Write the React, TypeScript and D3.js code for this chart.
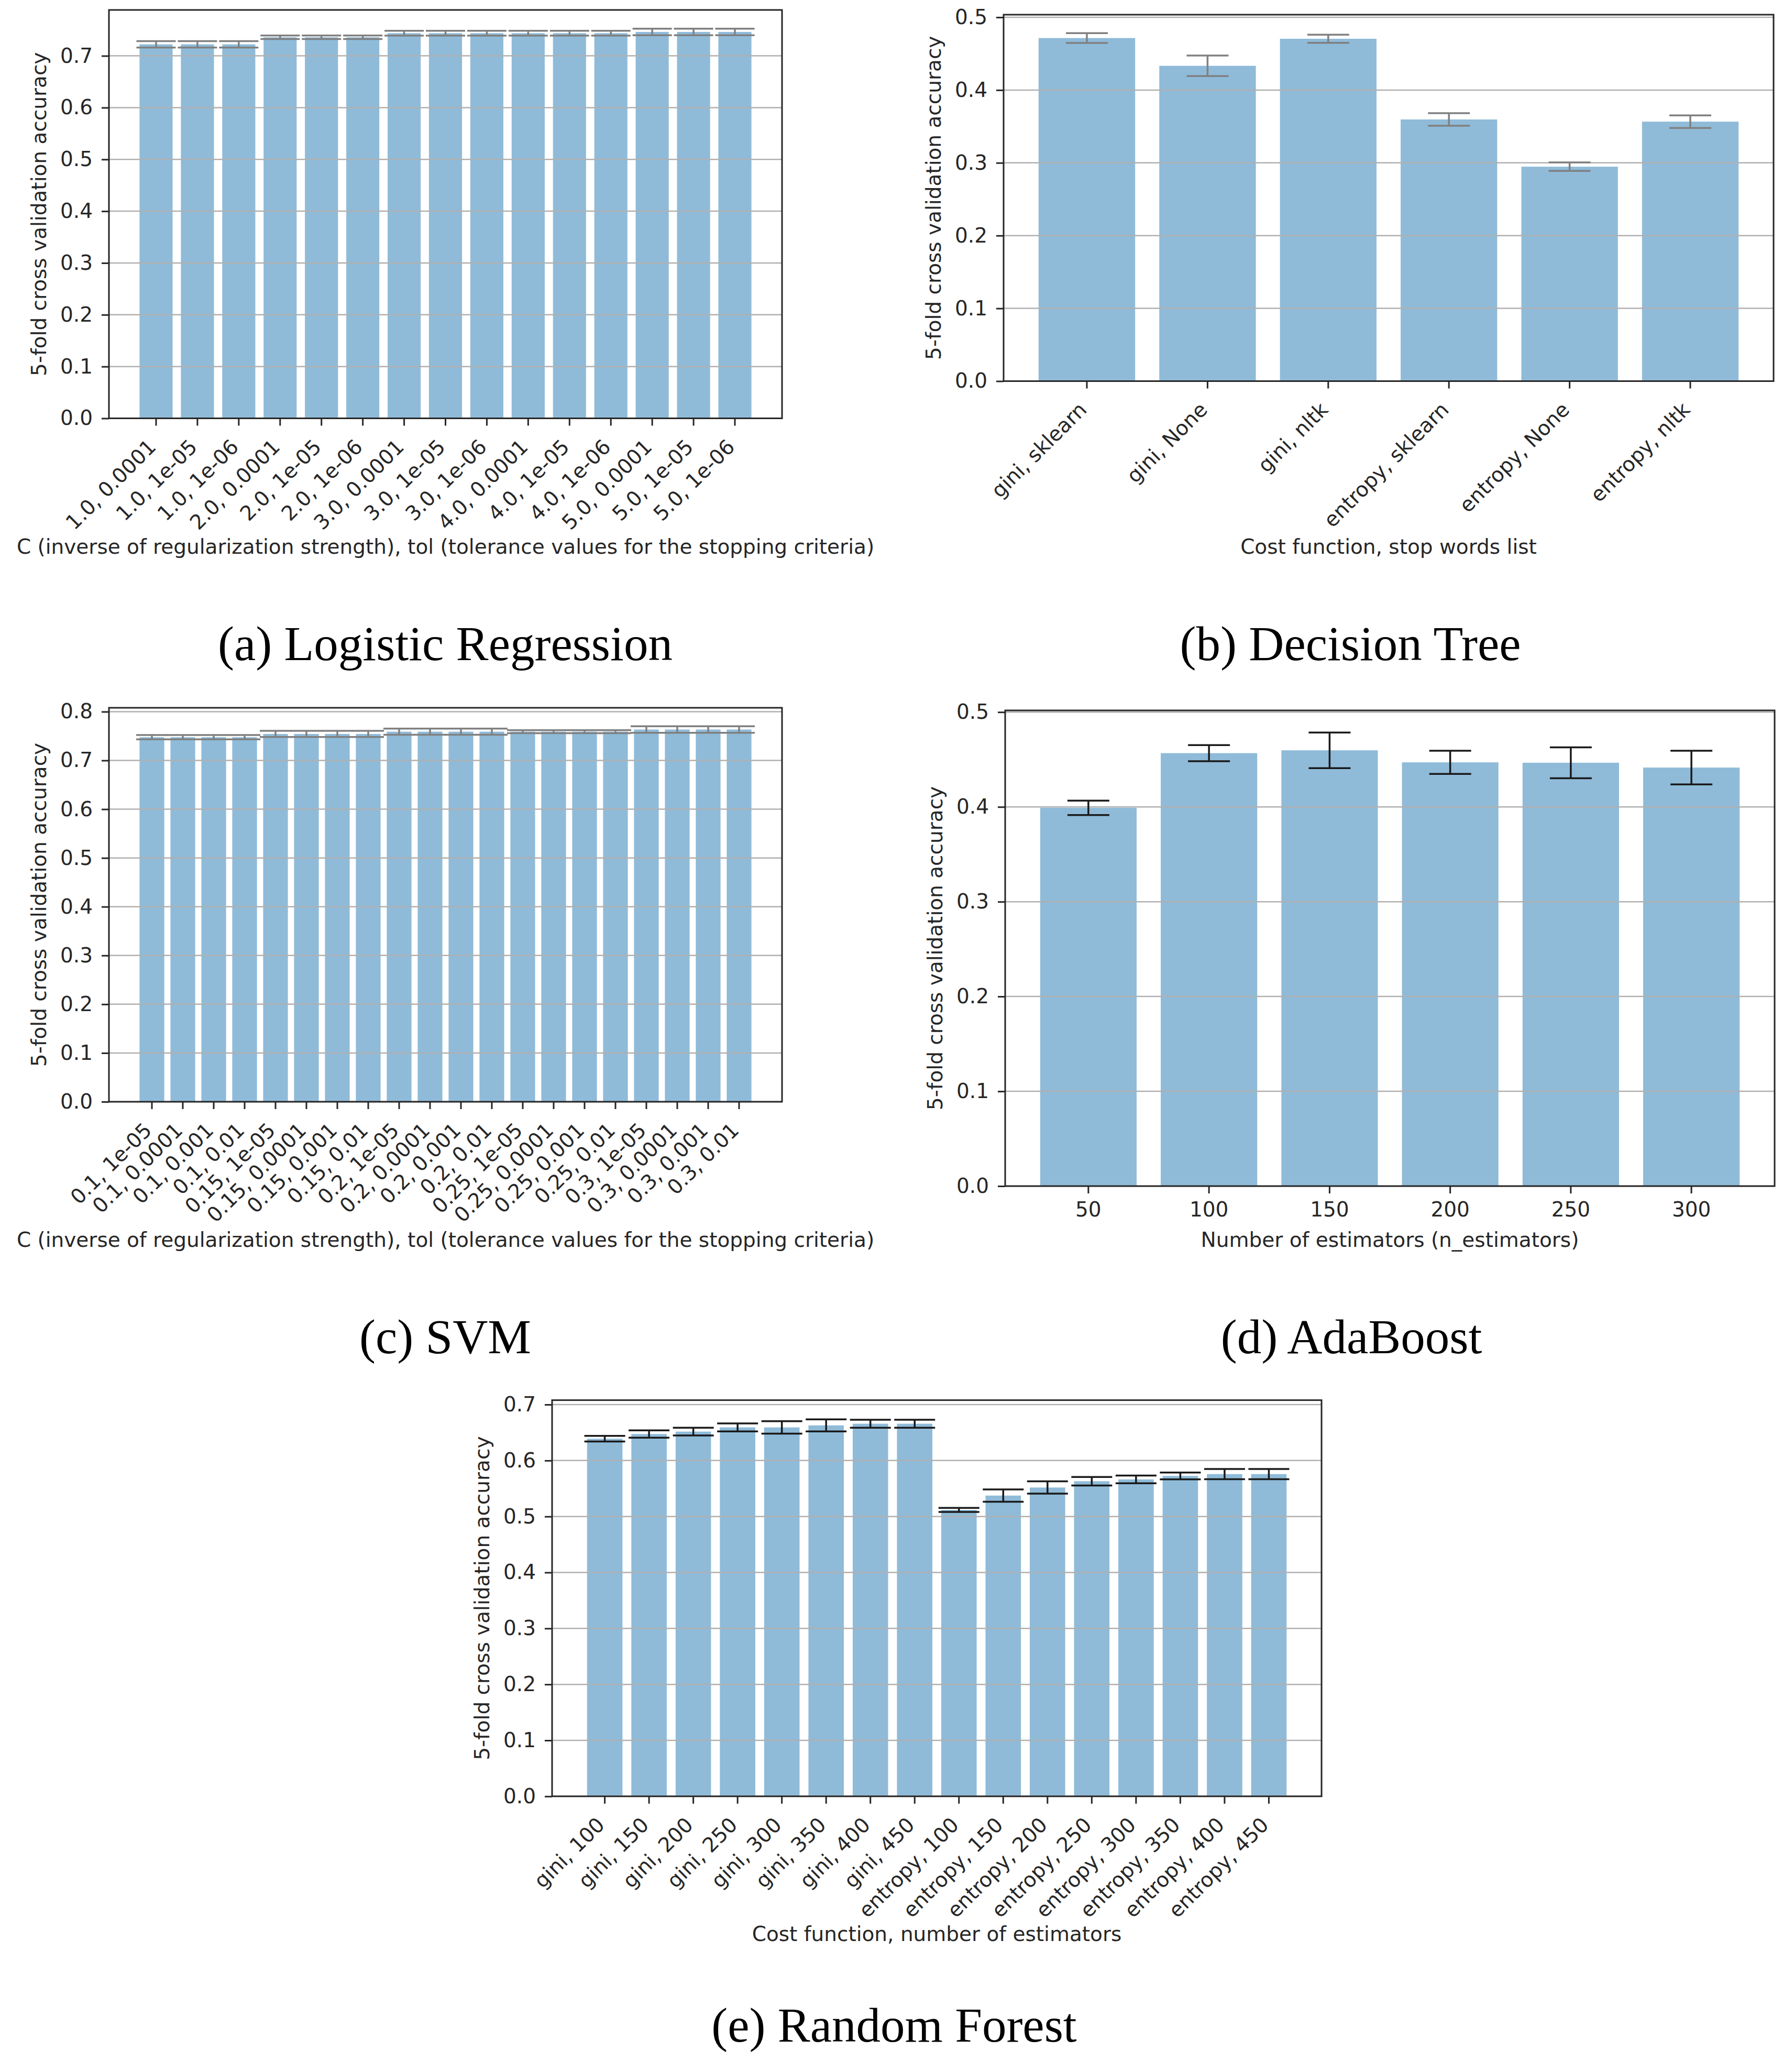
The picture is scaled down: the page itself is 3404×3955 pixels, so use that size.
import { useRef, useEffect } from 'react';
import * as d3 from 'd3';

const W = 3404;
const H = 3955;
const INK = '#262626';

// (a) Logistic Regression
const lrLabels = ['1.0, 0.0001', '1.0, 1e-05', '1.0, 1e-06', '2.0, 0.0001', '2.0, 1e-05', '2.0, 1e-06', '3.0, 0.0001', '3.0, 1e-05', '3.0, 1e-06', '4.0, 0.0001', '4.0, 1e-05', '4.0, 1e-06', '5.0, 0.0001', '5.0, 1e-05', '5.0, 1e-06'];
const lrMeans = [0.7222, 0.7222, 0.7222, 0.7358, 0.7358, 0.7358, 0.7437, 0.7437, 0.7437, 0.7437, 0.7437, 0.7437, 0.7462, 0.7462, 0.7462];
const lrErrs = [0.0062, 0.0062, 0.0062, 0.0034, 0.0034, 0.0034, 0.0046, 0.0046, 0.0046, 0.0046, 0.0046, 0.0046, 0.0063, 0.0063, 0.0063];
const lrTicks = [0, 0.1, 0.2, 0.3, 0.4, 0.5, 0.6, 0.7];

// (b) Decision Tree
const dtLabels = ['gini, sklearn', 'gini, None', 'gini, nltk', 'entropy, sklearn', 'entropy, None', 'entropy, nltk'];
const dtMeans = [0.4715, 0.4333, 0.4705, 0.3596, 0.2947, 0.3566];
const dtErrs = [0.0068, 0.0141, 0.0056, 0.0086, 0.0058, 0.0086];
const dtTicks = [0, 0.1, 0.2, 0.3, 0.4, 0.5];

// (c) SVM
const svmLabels = ['0.1, 1e-05', '0.1, 0.0001', '0.1, 0.001', '0.1, 0.01', '0.15, 1e-05', '0.15, 0.0001', '0.15, 0.001', '0.15, 0.01', '0.2, 1e-05', '0.2, 0.0001', '0.2, 0.001', '0.2, 0.01', '0.25, 1e-05', '0.25, 0.0001', '0.25, 0.001', '0.25, 0.01', '0.3, 1e-05', '0.3, 0.0001', '0.3, 0.001', '0.3, 0.01'];
const svmMeans = [0.7476, 0.7476, 0.7476, 0.7476, 0.7543, 0.7543, 0.7543, 0.7543, 0.759, 0.759, 0.759, 0.759, 0.759, 0.759, 0.759, 0.759, 0.7634, 0.7634, 0.7634, 0.7634];
const svmErrs = [0.0044, 0.0044, 0.0044, 0.0044, 0.0063, 0.0063, 0.0063, 0.0063, 0.0063, 0.0063, 0.0063, 0.0063, 0.0031, 0.0031, 0.0031, 0.0031, 0.0067, 0.0067, 0.0067, 0.0067];
const svmTicks = [0, 0.1, 0.2, 0.3, 0.4, 0.5, 0.6, 0.7, 0.8];

// (d) AdaBoost
const adaLabels = ['50', '100', '150', '200', '250', '300'];
const adaMeans = [0.399, 0.4567, 0.4597, 0.447, 0.4466, 0.4415];
const adaErrs = [0.0076, 0.0085, 0.0188, 0.0122, 0.0163, 0.0177];
const adaTicks = [0, 0.1, 0.2, 0.3, 0.4, 0.5];

// (e) Random Forest
const rfLabels = ['gini, 100', 'gini, 150', 'gini, 200', 'gini, 250', 'gini, 300', 'gini, 350', 'gini, 400', 'gini, 450', 'entropy, 100', 'entropy, 150', 'entropy, 200', 'entropy, 250', 'entropy, 300', 'entropy, 350', 'entropy, 400', 'entropy, 450'];
const rfMeans = [0.639, 0.6474, 0.6517, 0.6592, 0.6592, 0.6628, 0.6658, 0.6658, 0.5118, 0.5374, 0.5518, 0.563, 0.5663, 0.5725, 0.5758, 0.5758];
const rfErrs = [0.005, 0.0066, 0.0069, 0.0072, 0.0112, 0.0108, 0.0072, 0.0072, 0.0036, 0.011, 0.011, 0.0075, 0.007, 0.006, 0.0092, 0.0092];
const rfTicks = [0, 0.1, 0.2, 0.3, 0.4, 0.5, 0.6, 0.7];

const yTitle = '5-fold cross validation accuracy';
const cTolTitle = 'C (inverse of regularization strength), tol (tolerance values for the stopping criteria)';

interface Panel {
  labels: string[];
  means: number[];
  errs: number[];
  ticks: number[];
  yMax: number;
  box: [number, number, number, number]; // left, right, top, bottom
  rotate: boolean;
  xTitle: string;
  xTitleY: number;
  errColor: string;
  capW: number;
  caption: string;
  capX: number;
  capY: number;
}

const panels: Panel[] = [
  { labels: lrLabels, means: lrMeans, errs: lrErrs, ticks: lrTicks, yMax: 0.7886, box: [208, 1493, 19, 798.5], rotate: true, xTitle: cTolTitle, xTitleY: 1057, errColor: '#808080', capW: 75, caption: '(a) Logistic Regression', capX: 850, capY: 1260 },
  { labels: dtLabels, means: dtMeans, errs: dtErrs, ticks: dtTicks, yMax: 0.5036, box: [1916, 3386, 28, 727.5], rotate: true, xTitle: 'Cost function, stop words list', xTitleY: 1057, errColor: '#808080', capW: 80, caption: '(b) Decision Tree', capX: 2578, capY: 1260 },
  { labels: svmLabels, means: svmMeans, errs: svmErrs, ticks: svmTicks, yMax: 0.808, box: [208, 1493, 1351, 2103], rotate: true, xTitle: cTolTitle, xTitleY: 2380, errColor: '#808080', capW: 60, caption: '(c) SVM', capX: 850, capY: 2583 },
  { labels: adaLabels, means: adaMeans, errs: adaErrs, ticks: adaTicks, yMax: 0.5018, box: [1919, 3388, 1356, 2264], rotate: false, xTitle: 'Number of estimators (n_estimators)', xTitleY: 2380, errColor: '#1a1a1a', capW: 80, caption: '(d) AdaBoost', capX: 2580, capY: 2583 },
  { labels: rfLabels, means: rfMeans, errs: rfErrs, ticks: rfTicks, yMax: 0.7079, box: [1054, 2523, 2672.6, 3428.8], rotate: true, xTitle: 'Cost function, number of estimators', xTitleY: 3705, errColor: '#1a1a1a', capW: 78, caption: '(e) Random Forest', capX: 1707, capY: 3897 },
];

function drawPanel(root: d3.Selection<SVGSVGElement, unknown, null, undefined>, p: Panel) {
  const [x0, x1, y0, y1] = p.box;
  const n = p.means.length;
  const g = root.append('g');

  const x = d3.scaleBand<number>()
    .domain(d3.range(n))
    .range([x0, x1])
    .paddingInner(0.2)
    .paddingOuter(0.05 * (n - 0.2));
  const y = d3.scaleLinear().domain([0, p.yMax]).range([y1, y0]);
  const cx = (i: number) => (x(i) ?? 0) + x.bandwidth() / 2;

  // Bars
  g.selectAll('rect.bar')
    .data(p.means)
    .join('rect')
    .attr('class', 'bar')
    .attr('x', (_, i) => x(i) ?? 0)
    .attr('y', (d) => y(d))
    .attr('width', x.bandwidth())
    .attr('height', (d) => y(0) - y(d))
    .attr('fill', '#1f77b4')
    .attr('fill-opacity', 0.5);

  // Grid (drawn above bars, like matplotlib's default)
  g.selectAll('line.grid')
    .data(p.ticks)
    .join('line')
    .attr('x1', x0).attr('x2', x1)
    .attr('y1', (d) => y(d)).attr('y2', (d) => y(d))
    .attr('stroke', '#b0b0b0')
    .attr('stroke-width', 2.5);

  // Error bars
  const eb = g.selectAll('g.err')
    .data(p.means.map((m, i) => ({ m, e: p.errs[i], i })))
    .join('g')
    .attr('stroke', p.errColor)
    .attr('stroke-width', 3.5);
  eb.append('line')
    .attr('x1', (d) => cx(d.i)).attr('x2', (d) => cx(d.i))
    .attr('y1', (d) => y(d.m - d.e)).attr('y2', (d) => y(d.m + d.e));
  eb.append('line')
    .attr('x1', (d) => cx(d.i) - p.capW / 2).attr('x2', (d) => cx(d.i) + p.capW / 2)
    .attr('y1', (d) => y(d.m + d.e)).attr('y2', (d) => y(d.m + d.e));
  eb.append('line')
    .attr('x1', (d) => cx(d.i) - p.capW / 2).attr('x2', (d) => cx(d.i) + p.capW / 2)
    .attr('y1', (d) => y(d.m - d.e)).attr('y2', (d) => y(d.m - d.e));

  // Y axis
  const ya = g.append('g')
    .attr('transform', `translate(${x0},0)`)
    .call(d3.axisLeft(y).tickValues(p.ticks).tickFormat(d3.format('.1f')).tickSize(14).tickPadding(17));
  ya.select('.domain').remove();
  ya.attr('font-size', 39).attr('font-family', '"DejaVu Sans", sans-serif');
  ya.selectAll('line').attr('stroke', INK).attr('stroke-width', 3);
  ya.selectAll('text').attr('fill', INK);

  // X axis
  const xa = g.append('g')
    .attr('transform', `translate(0,${y1})`)
    .call(d3.axisBottom(x).tickFormat((i) => p.labels[i]).tickSize(14).tickPadding(16));
  xa.select('.domain').remove();
  xa.attr('font-size', 39).attr('font-family', '"DejaVu Sans", sans-serif');
  xa.selectAll('line').attr('stroke', INK).attr('stroke-width', 3);
  const xt = xa.selectAll('text').attr('fill', INK);
  if (p.rotate) {
    xt.attr('x', 0).attr('y', 0).attr('dy', 0)
      .attr('transform', 'translate(2,57) rotate(-45)')
      .attr('text-anchor', 'end');
  }

  // Spines
  g.append('rect')
    .attr('x', x0).attr('y', y0)
    .attr('width', x1 - x0).attr('height', y1 - y0)
    .attr('fill', 'none')
    .attr('stroke', INK)
    .attr('stroke-width', 3);

  // Axis titles
  g.append('text')
    .attr('transform', `translate(${x0 - 120},${(y0 + y1) / 2}) rotate(-90)`)
    .attr('text-anchor', 'middle')
    .attr('font-family', '"DejaVu Sans", sans-serif')
    .attr('font-size', 39)
    .attr('fill', INK)
    .text(yTitle);
  g.append('text')
    .attr('x', (x0 + x1) / 2).attr('y', p.xTitleY)
    .attr('text-anchor', 'middle')
    .attr('font-family', '"DejaVu Sans", sans-serif')
    .attr('font-size', 39)
    .attr('fill', INK)
    .text(p.xTitle);

  // Sub-figure caption
  g.append('text')
    .attr('x', p.capX).attr('y', p.capY)
    .attr('text-anchor', 'middle')
    .attr('font-family', '"Liberation Serif", serif')
    .attr('font-size', 93)
    .attr('fill', '#000')
    .text(p.caption);
}

export default function App() {
  const svgRef = useRef<SVGSVGElement>(null);

  useEffect(() => {
    if (!svgRef.current) return;
    const svg = d3.select(svgRef.current);
    svg.selectAll('*').remove();
    svg.append('rect').attr('width', W).attr('height', H).attr('fill', '#fff');
    panels.forEach((p) => drawPanel(svg, p));
  }, []);

  return (
    <svg
      ref={svgRef}
      width={W}
      height={H}
      style={{ position: 'absolute', left: 0, top: 0, display: 'block' }}
    />
  );
}
